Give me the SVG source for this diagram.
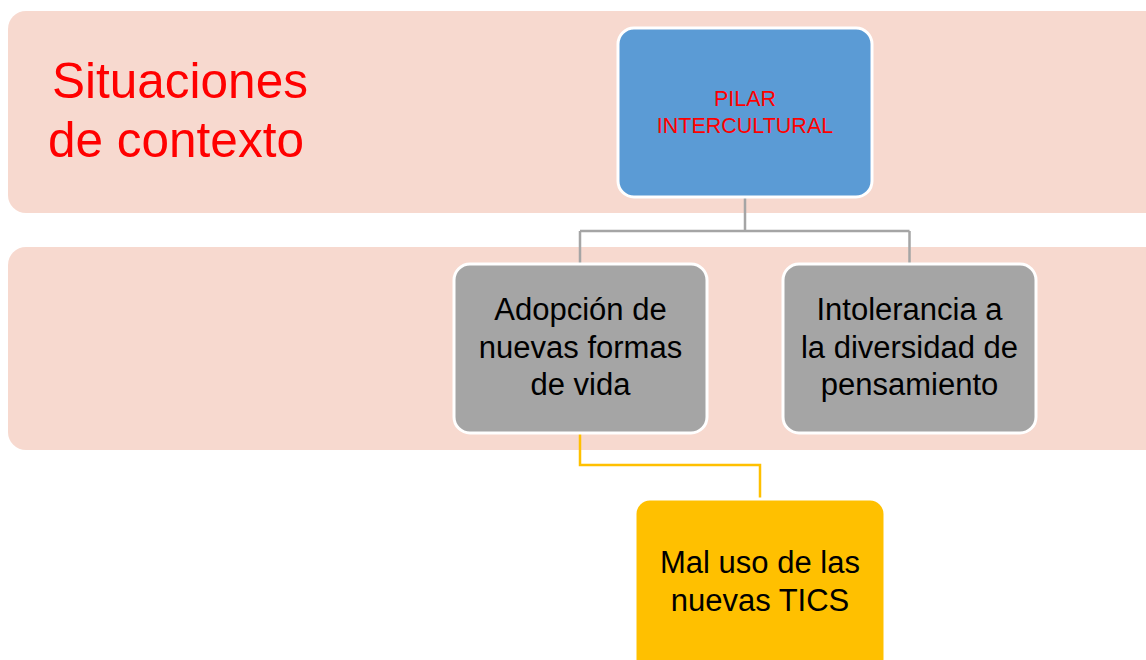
<svg xmlns="http://www.w3.org/2000/svg" width="1146" height="660" viewBox="0 0 1146 660">
<style>
.band{fill:#F7D9CF}
.node{stroke:#FFFFFF;stroke-width:3}
.t{font-family:"Liberation Sans",Arial,sans-serif;text-anchor:middle}
.big{font-size:31px;fill:#000000}
.red{font-size:21.5px;fill:#FF0000}
.title{font-family:"Liberation Sans",Arial,sans-serif;font-size:49.5px;fill:#FF0000}
.gray{fill:none;stroke:#A5A5A5;stroke-width:2.5}
.gold{fill:none;stroke:#FFC000;stroke-width:2.5}
</style>
<rect width="1146" height="660" fill="#FFFFFF"/>
<g id="band1"><rect class="band" x="8" y="11" width="1160" height="202" rx="18"/>
<text class="title" x="52" y="98">Situaciones</text>
<text class="title" x="48" y="157">de contexto</text></g>
<g id="band2"><rect class="band" x="8" y="247" width="1160" height="203" rx="18"/></g>
<g id="connectors">
<path class="gray" d="M745 197 V231 M580 231 H909.5 M580 231 V264 M909.5 231 V264"/>
<path class="gold" d="M580 433 V465 H760 V499"/>
</g>
<g id="pilar"><rect class="node" x="618" y="28" width="254" height="169" rx="16" fill="#5B9BD5"/>
<text class="t red" x="745" y="106">PILAR</text>
<text class="t red" x="745" y="133">INTERCULTURAL</text></g>
<g id="adopcion"><rect class="node" x="454" y="264" width="253" height="169" rx="16" fill="#A5A5A5"/>
<text class="t big" x="580.5" y="320">Adopción de</text>
<text class="t big" x="580.5" y="358">nuevas formas</text>
<text class="t big" x="580.5" y="395">de vida</text></g>
<g id="intolerancia"><rect class="node" x="783" y="264" width="253" height="169" rx="16" fill="#A5A5A5"/>
<text class="t big" x="909.5" y="320">Intolerancia a</text>
<text class="t big" x="909.5" y="358">la diversidad de</text>
<text class="t big" x="909.5" y="395">pensamiento</text></g>
<g id="tics"><rect class="node" x="635" y="499" width="250" height="175" rx="15" fill="#FFC000"/>
<text class="t big" x="760" y="573">Mal uso de las</text>
<text class="t big" x="760" y="611">nuevas TICS</text></g>
</svg>
